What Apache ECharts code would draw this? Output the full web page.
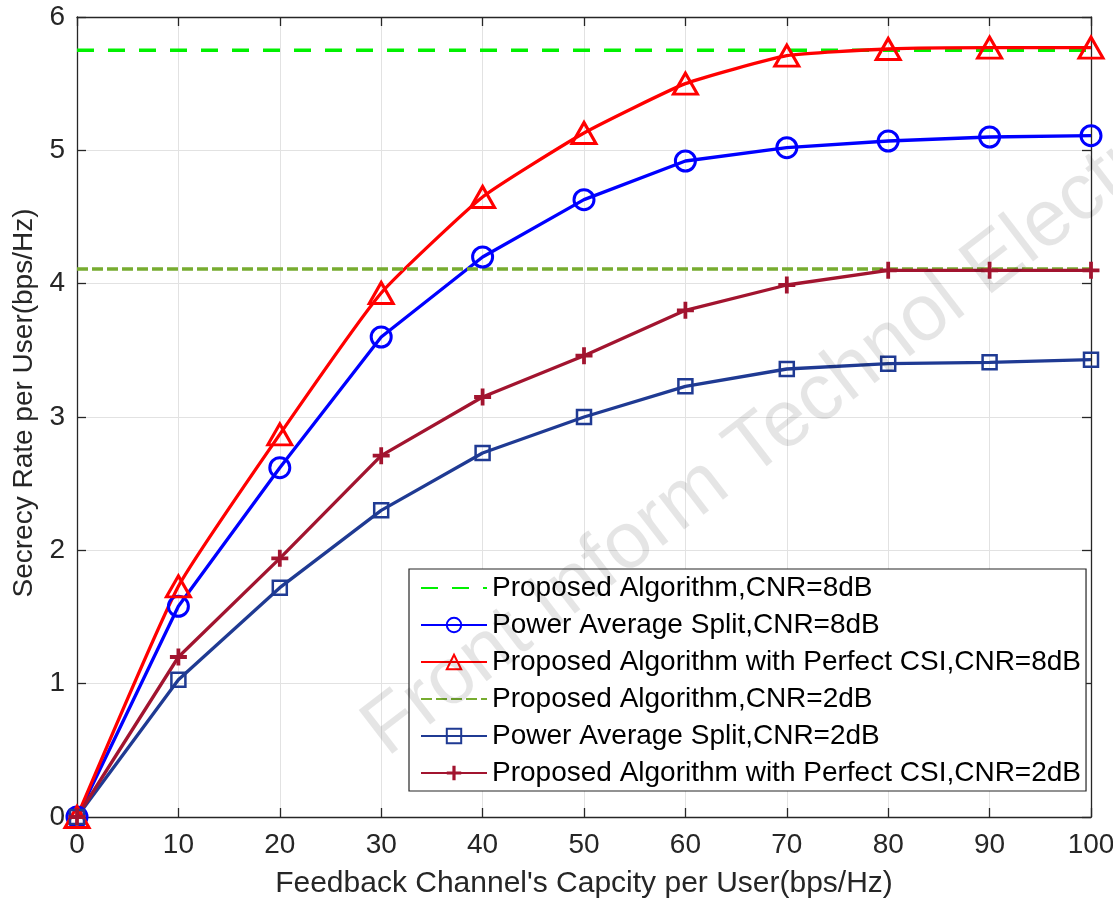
<!DOCTYPE html>
<html><head><meta charset="utf-8">
<script src="https://cdn.jsdelivr.net/npm/echarts@6/dist/echarts.min.js"></script>
<style>html,body{margin:0;padding:0;background:#fff}#c{width:1113px;height:903px}</style>
</head><body><div id="c"></div>
<script>
// ---- data ----
const xValues = [0, 10, 20, 30, 40, 50, 60, 70, 80, 90, 100];
const seriesNames = [
  'Proposed Algorithm,CNR=8dB',
  'Power Average Split,CNR=8dB',
  'Proposed Algorithm with Perfect CSI,CNR=8dB',
  'Proposed Algorithm,CNR=2dB',
  'Power Average Split,CNR=2dB',
  'Proposed Algorithm with Perfect CSI,CNR=2dB'
];
const proposed8 = 5.75;   // constant level
const proposed2 = 4.11;   // constant level
const pas8     = [0, 1.58, 2.62, 3.60, 4.20, 4.63, 4.92, 5.02, 5.07, 5.10, 5.11];
const perfect8 = [0, 1.73, 2.87, 3.93, 4.65, 5.13, 5.50, 5.71, 5.76, 5.77, 5.77];
const pas2     = [0, 1.03, 1.72, 2.30, 2.73, 3.00, 3.23, 3.36, 3.40, 3.41, 3.43];
const perfect2 = [0, 1.20, 1.94, 2.71, 3.15, 3.46, 3.80, 3.99, 4.10, 4.10, 4.10];
const xTitle = "Feedback Channel's Capcity per User(bps/Hz)";
const yTitle = 'Secrecy Rate per User(bps/Hz)';
const watermark = 'Front Inform Technol Electron Eng';

// ---- build ----
const pairs = ys => xValues.map((x, i) => [x, ys[i]]);
const flat = v => [[xValues[0], v], [xValues[xValues.length - 1], v]];
const FONT = '"Liberation Sans", Arial, Helvetica, sans-serif';
const AX = '#262626';
const plusPath = 'path://M7,0H11V7H18V11H11V18H7V11H0V7H7Z';
const LW = 3.3;

function markerSeries(name, data, color, symbol, size, bw, opts) {
  return Object.assign({
    name, type: 'line', data, clip: false,
    symbol, symbolSize: size, showAllSymbol: true,
    lineStyle: { color, width: LW },
    itemStyle: { color: 'rgba(255,255,255,0)', borderColor: color, borderWidth: bw },
    emphasis: { disabled: true }
  }, opts || {});
}
function flatSeries(name, v, color, dash) {
  return { name, type: 'line', data: flat(v), symbol: 'none', clip: false,
    lineStyle: { color, width: 3.5, type: dash },
    itemStyle: { color: 'rgba(0,0,0,0)', borderWidth: 0 },
    emphasis: { disabled: true } };
}

const chart = echarts.init(document.getElementById('c'), null, { renderer: 'canvas' });
chart.setOption({
  animation: false,
  backgroundColor: '#fff',
  textStyle: { fontFamily: FONT },
  grid: { left: 77, right: 22, top: 17, bottom: 86, containLabel: false, outerBoundsMode: 'none' },
  xAxis: [{
    type: 'value', min: 0, max: 100, interval: 10, position: 'bottom',
    axisLine: { show: true, onZero: false, lineStyle: { color: AX, width: 1.3 } },
    axisTick: { show: true, inside: true, length: 9, lineStyle: { color: AX, width: 1.3 } },
    axisLabel: { fontSize: 28, color: AX, margin: 14, fontFamily: FONT },
    splitLine: { show: true, lineStyle: { color: '#E2E2E2', width: 1 } },
    name: xTitle, nameLocation: 'middle', nameGap: 52,
    nameTextStyle: { fontSize: 30, color: AX, fontFamily: FONT }
  }, {
    type: 'value', min: 0, max: 100, interval: 10, position: 'top',
    axisLine: { show: true, onZero: false, lineStyle: { color: AX, width: 1.3 } },
    axisTick: { show: true, inside: true, length: 9, lineStyle: { color: AX, width: 1.3 } },
    axisLabel: { show: false }, splitLine: { show: false }
  }],
  yAxis: [{
    type: 'value', min: 0, max: 6, interval: 1, position: 'left',
    axisLine: { show: true, onZero: false, lineStyle: { color: AX, width: 1.3 } },
    axisTick: { show: true, inside: true, length: 9, lineStyle: { color: AX, width: 1.3 } },
    axisLabel: { fontSize: 28, color: AX, margin: 12, fontFamily: FONT },
    splitLine: { show: true, lineStyle: { color: '#E2E2E2', width: 1 } },
    name: yTitle, nameLocation: 'middle', nameGap: 36, nameRotate: 90,
    nameTextStyle: { fontSize: 28, color: AX, fontFamily: FONT, padding: [0, 0, 0, 28] }
  }, {
    type: 'value', min: 0, max: 6, interval: 1, position: 'right',
    axisLine: { show: true, onZero: false, lineStyle: { color: AX, width: 1.3 } },
    axisTick: { show: true, inside: true, length: 9, lineStyle: { color: AX, width: 1.3 } },
    axisLabel: { show: false }, splitLine: { show: false }
  }],
  legend: {
    orient: 'vertical', left: 409, top: 569,
    padding: [5, 5, 4, 11], itemGap: 9, itemWidth: 66, itemHeight: 18,
    backgroundColor: '#fff', borderColor: AX, borderWidth: 1.2, borderRadius: 0,
    textStyle: { fontSize: 28, lineHeight: 28, color: '#000', fontFamily: FONT },
    data: seriesNames.slice(),
    selectedMode: false
  },
  series: [
    flatSeries(seriesNames[0], proposed8, '#00F000', [17, 14]),
    markerSeries(seriesNames[1], pairs(pas8), '#0000FF', 'circle', 20, 3),
    markerSeries(seriesNames[2], pairs(perfect8), '#FF0000', 'triangle', [24, 21], 3, { smooth: 0.15 }),
    flatSeries(seriesNames[3], proposed2, '#77AC30', [11, 4]),
    markerSeries(seriesNames[4], pairs(pas2), '#1F3A93', 'rect', 14, 2.5),
    { name: seriesNames[5], type: 'line', data: pairs(perfect2), clip: false,
      symbol: plusPath, symbolSize: 17, showAllSymbol: true,
      lineStyle: { color: '#A2142F', width: LW },
      itemStyle: { color: '#A2142F' }, emphasis: { disabled: true } }
  ],
  graphic: [{
    type: 'text', x: 398, y: 772, rotation: 0.655, z: 100, silent: true,
    style: { text: watermark, fontSize: 80, fontFamily: FONT,
      fill: 'rgba(0,0,0,0.1)', verticalAlign: 'bottom', align: 'left' }
  }]
});
</script></body></html>
